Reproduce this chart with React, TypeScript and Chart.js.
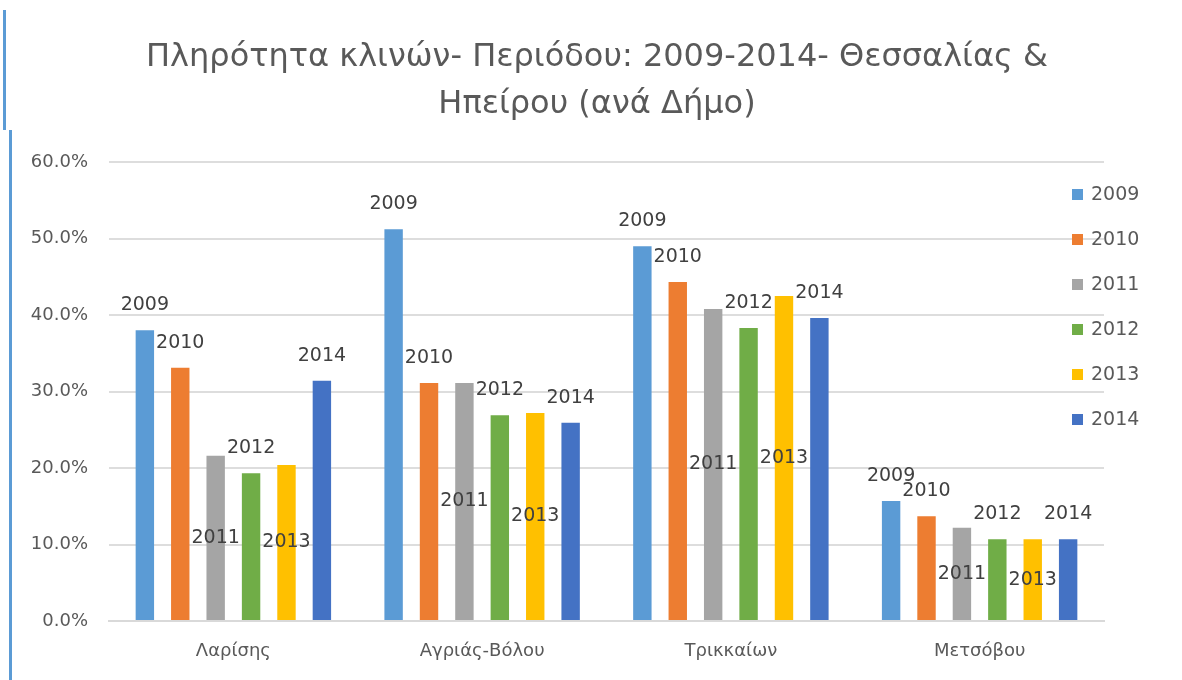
import React, { useEffect, useRef } from "react";
import { Chart, registerables } from "chart.js";

Chart.register(...registerables);

const categories = ["Λαρίσης", "Αγριάς-Βόλου", "Τρικκαίων", "Μετσόβου"];
const seriesNames = ["2009", "2010", "2011", "2012", "2013", "2014"];
const values2009 = [38.0, 51.2, 49.0, 15.7];
const values2010 = [33.1, 31.1, 44.3, 13.7];
const values2011 = [21.6, 31.1, 40.8, 12.2];
const values2012 = [19.3, 26.9, 38.3, 10.7];
const values2013 = [20.4, 27.2, 42.5, 10.7];
const values2014 = [31.4, 25.9, 39.6, 10.7];
const seriesColors = ["#5B9BD5", "#ED7D31", "#A5A5A5", "#70AD47", "#FFC000", "#4472C4"];
const labelPlacement = ["end", "end", "center", "end", "center", "end"];
const titleLines = [
  "Πληρότητα κλινών- Περιόδου: 2009-2014- Θεσσαλίας &",
  "Ηπείρου (ανά Δήμο)",
];
const yMin = 0;
const yMax = 60;
const yStep = 10;

const FONT = "'DejaVu Sans', sans-serif";

const allValues = [values2009, values2010, values2011, values2012, values2013, values2014];

const titlePlugin = {
  id: "excelTitle",
  afterDraw(chart: any) {
    const ctx = chart.ctx;
    ctx.save();
    ctx.fillStyle = "#595959";
    ctx.font = `32px ${FONT}`;
    ctx.textAlign = "center";
    ctx.textBaseline = "middle";
    const cx = chart.width / 2 + 6;
    ctx.fillText(titleLines[0], cx, 58);
    ctx.fillText(titleLines[1], cx, 105);
    ctx.restore();
  },
};

const dataLabelPlugin = {
  id: "seriesNameLabels",
  afterDatasetsDraw(chart: any) {
    const ctx = chart.ctx;
    ctx.save();
    ctx.fillStyle = "#404040";
    ctx.font = `19px ${FONT}`;
    ctx.textAlign = "center";
    ctx.textBaseline = "middle";
    chart.data.datasets.forEach((ds: any, i: number) => {
      const meta = chart.getDatasetMeta(i);
      meta.data.forEach((el: any) => {
        const y = labelPlacement[i] === "center" ? (el.y + el.base) / 2 : el.y - 25;
        ctx.fillText(ds.label, el.x, y);
      });
    });
    ctx.restore();
  },
};

const legendPlugin = {
  id: "rightLegend",
  afterDraw(chart: any) {
    const ctx = chart.ctx;
    const area = chart.chartArea;
    ctx.save();
    ctx.font = `19px ${FONT}`;
    ctx.textBaseline = "middle";
    ctx.textAlign = "left";
    chart.data.datasets.forEach((ds: any, i: number) => {
      const y = area.top + 33 + i * 45;
      const x = area.right - 32;
      ctx.fillStyle = ds.backgroundColor;
      ctx.fillRect(x, y - 6, 11, 11);
      ctx.fillStyle = "#595959";
      ctx.fillText(ds.label, x + 19, y);
    });
    ctx.restore();
  },
};

export default function App() {
  const canvasRef = useRef<HTMLCanvasElement | null>(null);

  useEffect(() => {
    document.body.style.margin = "0";
    const canvas = canvasRef.current;
    if (!canvas) return;
    const chart = new Chart(canvas, {
      type: "bar",
      data: {
        labels: categories,
        datasets: seriesNames.map((name, i) => ({
          label: name,
          data: allValues[i],
          backgroundColor: seriesColors[i],
          borderWidth: 0,
          categoryPercentage: 0.854,
          barPercentage: 0.52,
        })),
      },
      options: {
        animation: false,
        responsive: false,
        maintainAspectRatio: false,
        layout: { padding: { top: 162, right: 78, bottom: 0, left: 0 } },
        plugins: {
          legend: { display: false },
          title: { display: false },
          tooltip: { enabled: false },
        },
        scales: {
          x: {
            grid: { display: false, drawTicks: false },
            border: { display: true, color: "#D9D9D9", width: 2 },
            ticks: {
              color: "#595959",
              font: { family: FONT, size: 18 },
              padding: 20,
              maxRotation: 0,
              autoSkip: false,
            },
            afterFit(scale: any) {
              scale.height = 59;
            },
          },
          y: {
            min: yMin,
            max: yMax,
            grid: { color: "#DDDDDD", lineWidth: 2, drawTicks: false },
            border: { display: false },
            ticks: {
              stepSize: yStep,
              color: "#595959",
              font: { family: FONT, size: 18 },
              padding: 21,
              callback: (v: any) => Number(v).toFixed(1) + "%",
            },
            afterFit(scale: any) {
              scale.width = 109;
            },
          },
        },
      },
      plugins: [titlePlugin, dataLabelPlugin, legendPlugin],
    });
    return () => chart.destroy();
  }, []);

  return (
    <div style={{ position: "relative", width: 1182, height: 680, background: "#fff" }}>
      <div style={{ position: "absolute", left: 3, top: 10, width: 3, height: 120, background: "#5B9BD5" }} />
      <div style={{ position: "absolute", left: 9, top: 130, width: 3, height: 550, background: "#5B9BD5" }} />
      <canvas ref={canvasRef} width={1182} height={680} style={{ display: "block" }} />
    </div>
  );
}
